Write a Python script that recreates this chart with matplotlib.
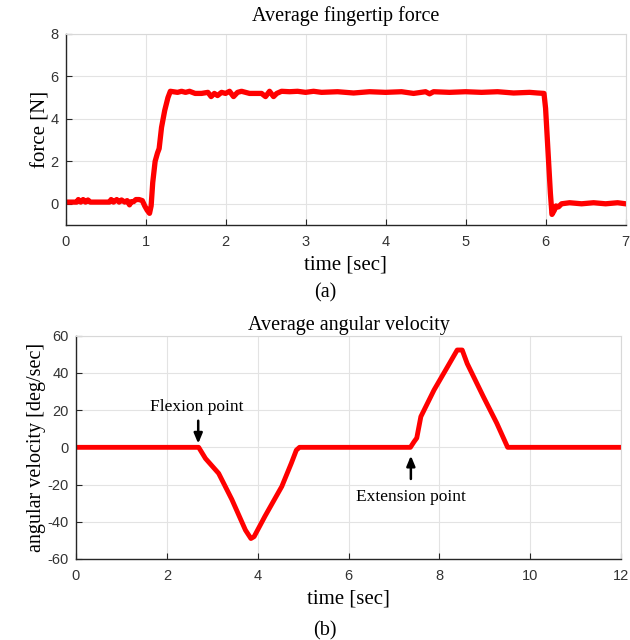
import matplotlib.pyplot as plt

plt.rcParams['axes.unicode_minus'] = False

# fingertip force [N] over time [sec]
force_t = [0.00, 0.14, 0.16, 0.19, 0.22, 0.25, 0.28, 0.31, 0.55, 0.57, 0.60, 0.64,
           0.67, 0.70, 0.74, 0.77, 0.80, 0.82, 0.85, 0.88, 0.92, 0.96, 0.99, 1.02,
           1.05, 1.07, 1.09, 1.12, 1.15, 1.17, 1.20, 1.24, 1.28, 1.31, 1.40, 1.45,
           1.50, 1.55, 1.62, 1.70, 1.78, 1.82, 1.86, 1.90, 1.95, 2.00, 2.05, 2.10,
           2.15, 2.20, 2.30, 2.45, 2.50, 2.55, 2.60, 2.64, 2.70, 2.80, 2.90, 3.00,
           3.10, 3.20, 3.40, 3.60, 3.80, 4.00, 4.20, 4.35, 4.50, 4.55, 4.60, 4.80,
           5.00, 5.20, 5.40, 5.60, 5.80, 5.90, 5.98, 6.00, 6.03, 6.06, 6.08, 6.11,
           6.13, 6.16, 6.20, 6.30, 6.45, 6.60, 6.75, 6.90, 7.00]
force_n = [0.08, 0.08, 0.20, 0.08, 0.20, 0.08, 0.18, 0.08, 0.08, 0.20, 0.08, 0.20,
           0.08, 0.18, 0.08, 0.15, -0.05, 0.10, 0.10, 0.20, 0.20, 0.15, -0.10, -0.30,
           -0.45, -0.10, 1.00, 2.00, 2.40, 2.60, 3.60, 4.40, 5.00, 5.30, 5.25, 5.30,
           5.25, 5.30, 5.20, 5.20, 5.25, 5.05, 5.20, 5.10, 5.25, 5.20, 5.30, 5.05,
           5.25, 5.30, 5.20, 5.20, 5.05, 5.30, 5.05, 5.20, 5.30, 5.28, 5.30, 5.25,
           5.30, 5.25, 5.28, 5.22, 5.28, 5.25, 5.28, 5.20, 5.28, 5.18, 5.28, 5.25,
           5.28, 5.25, 5.28, 5.22, 5.25, 5.22, 5.20, 4.50, 2.50, 0.50, -0.50, -0.30,
           -0.10, -0.15, 0.00, 0.05, 0.00, 0.05, 0.00, 0.05, 0.00]

# angular velocity [deg/sec] over time [sec]
vel_t = [0.0, 2.70, 2.85, 3.14, 3.43, 3.73, 3.85, 3.92, 4.16, 4.53, 4.74, 4.85,
         4.92, 7.36, 7.44, 7.50, 7.59, 7.88, 8.17, 8.39, 8.50, 8.61, 8.97, 9.26,
         9.50, 12.0]
vel_dps = [0.0, 0.0, -6.0, -14.0, -28.0, -44.5, -49.0, -48.0, -37.0, -21.0, -8.5, -1.5,
           0.0, 0.0, 3.0, 5.0, 16.5, 30.8, 43.0, 52.3, 52.3, 45.0, 27.0, 13.0,
           0.0, 0.0]

force_xticks = [0, 1, 2, 3, 4, 5, 6, 7]
force_yticks = [0, 2, 4, 6, 8]
vel_xticks = [0, 2, 4, 6, 8, 10, 12]
vel_yticks = [-60, -40, -20, 0, 20, 40, 60]

serif = 'Liberation Serif'
sans = 'Liberation Sans'
tick_col = '#333333'

fig = plt.figure(figsize=(6.3, 6.4), dpi=100)
ax1 = fig.add_axes([0.104, 0.6484, 0.889, 0.2985])
ax2 = fig.add_axes([0.1206, 0.1266, 0.8655, 0.3489])


def style(ax):
    ax.grid(True, color='#e3e3e3', linewidth=0.8)
    ax.set_axisbelow(True)
    for side in ['top', 'right']:
        ax.spines[side].set_color('#d8d8d8')
        ax.spines[side].set_linewidth(0.8)
    for side in ['left', 'bottom']:
        ax.spines[side].set_color('#262626')
        ax.spines[side].set_linewidth(1.0)
    ax.tick_params(direction='in', length=4, width=0.8, color='#262626',
                   labelcolor=tick_col, labelsize=10.5)
    ax.tick_params(axis='x', pad=7)
    ax.tick_params(axis='y', pad=5)
    for lab in ax.get_xticklabels() + ax.get_yticklabels():
        lab.set_family(sans)


# (a) fingertip force
ax1.plot(force_t, force_n, color='#ff0000', linewidth=3.8, solid_joinstyle='round')
ax1.set_xlim(0, 7)
ax1.set_ylim(-1, 8)
ax1.set_xticks(force_xticks)
ax1.set_yticks(force_yticks)
style(ax1)
ax1.set_title('Average fingertip force', family=serif, fontsize=14.5, pad=9)
ax1.set_xlabel('time [sec]', family=serif, fontsize=15, labelpad=5)
ax1.set_ylabel('force [N]', family=serif, fontsize=15, labelpad=0)
fig.text(0.516, 0.542, '(a)', family=serif, fontsize=14.5, ha='center', va='center')

# (b) angular velocity
ax2.plot(vel_t, vel_dps, color='#ff0000', linewidth=3.5, solid_joinstyle='round')
ax2.set_xlim(0, 12)
ax2.set_ylim(-60, 60)
ax2.set_xticks(vel_xticks)
ax2.set_yticks(vel_yticks)
style(ax2)
ax2.set_title('Average angular velocity', family=serif, fontsize=14.5, pad=4)
ax2.set_xlabel('time [sec]', family=serif, fontsize=15, labelpad=5)
ax2.set_ylabel('angular velocity [deg/sec]', family=serif, fontsize=14.5, labelpad=1.5)
fig.text(0.516, 0.015, '(b)', family=serif, fontsize=14.5, ha='center', va='center')

arrow = dict(arrowstyle='-|>,head_length=0.6,head_width=0.25', color='black',
             lw=1.8, shrinkA=0, shrinkB=0)
ax2.annotate('', xy=(2.69, 2.0), xytext=(2.69, 14.3), arrowprops=arrow)
ax2.text(2.66, 21.9, 'Flexion point', family=serif, fontsize=12.5, ha='center', va='center')
ax2.annotate('', xy=(7.37, -4.5), xytext=(7.37, -17.0), arrowprops=arrow)
ax2.text(7.38, -26.5, 'Extension point', family=serif, fontsize=12.5, ha='center', va='center')

fig.savefig('out.png', dpi=100)
